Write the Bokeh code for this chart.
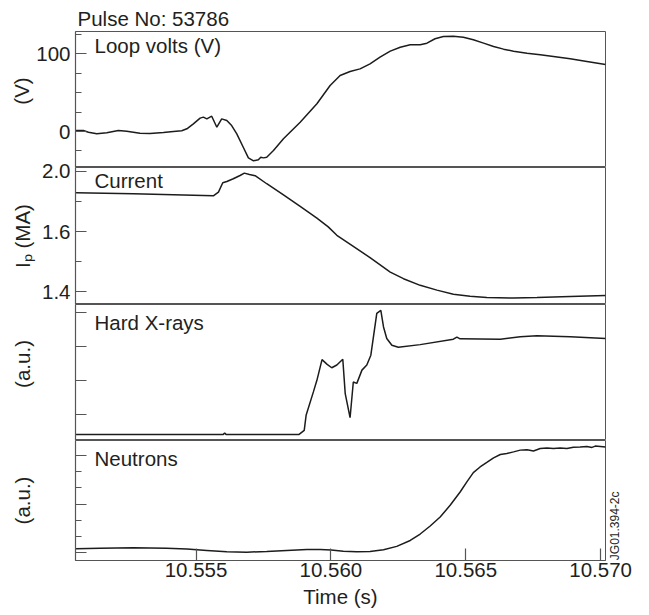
import math
from bokeh.plotting import figure
from bokeh.models import Range1d, FixedTicker, Label, NumeralTickFormatter, LinearAxis
from bokeh.layouts import column
from bokeh.embed import file_html
from bokeh.resources import INLINE

# ---------------- data ----------------
pulse_title = "Pulse No: 53786"

loop_t = [10.55055, 10.55082, 10.55101, 10.55132, 10.55169, 10.55212, 10.55243, 10.55292, 10.55329,
          10.55379, 10.55416, 10.55447, 10.55466, 10.55490, 10.55515, 10.55527, 10.55540, 10.55558,
          10.55577, 10.55595, 10.55614, 10.55632, 10.55651, 10.55675, 10.55694, 10.55713, 10.55731,
          10.55740, 10.55750, 10.55762, 10.55787, 10.55824, 10.55886, 10.55948, 10.55997, 10.56034,
          10.56071, 10.56108, 10.56145, 10.56182, 10.56220, 10.56257, 10.56294, 10.56331, 10.56356,
          10.56386, 10.56417, 10.56454, 10.56491, 10.56528, 10.56566, 10.56603, 10.56640, 10.56677,
          10.56727, 10.56776, 10.56825, 10.56887, 10.56949, 10.57018]
loop_v = [1.3, 1.3, -0.9, -3.0, -1.7, 1.3, 0.4, -2.2, -2.6,
          -1.3, 0.0, 0.9, 3.5, 9.9, 17.2, 18.5, 16.3, 19.7,
          5.5, 16.3, 14.2, 7.7, -3.0, -20.2, -33.9, -37.7, -36.4,
          -33.0, -33.9, -33.0, -24.5, -9.4, 12.0, 35.7, 59.2, 72.1,
          77.2, 80.6, 87.1, 95.6, 103.4, 108.5, 111.6, 111.6, 113.7,
          119.4, 122.3, 122.7, 121.4, 118.0, 113.7, 109.4, 106.0, 103.4,
          100.8, 98.8, 96.6, 93.5, 90.1, 86.2]

cur_t = [10.55055, 10.55267, 10.55416, 10.55564, 10.55583, 10.55599, 10.55614, 10.55638, 10.55663,
         10.55679, 10.55698, 10.55719, 10.55762, 10.55824, 10.55886, 10.55948, 10.55990, 10.56022,
         10.56083, 10.56145, 10.56220, 10.56269, 10.56331, 10.56393, 10.56454, 10.56516, 10.56578,
         10.56677, 10.56764, 10.56887, 10.57018]
cur_ip = [1.894, 1.889, 1.884, 1.879, 1.897, 1.944, 1.950, 1.964, 1.980,
          1.992, 1.985, 1.979, 1.939, 1.884, 1.826, 1.768, 1.724, 1.682,
          1.627, 1.571, 1.499, 1.466, 1.433, 1.409, 1.389, 1.379, 1.372,
          1.370, 1.372, 1.377, 1.382]

hxr_t = [10.55055, 10.55601, 10.55606, 10.55611, 10.55882, 10.55901, 10.55908, 10.55935, 10.55948,
         10.55967, 10.55986, 10.56003, 10.56022, 10.56044, 10.56053, 10.56071, 10.56083, 10.56096,
         10.56115, 10.56133, 10.56148, 10.56170, 10.56185, 10.56195, 10.56207, 10.56226, 10.56250,
         10.56331, 10.56454, 10.56467, 10.56479, 10.56628, 10.56702, 10.56764, 10.56887, 10.57018]
hxr_v = [0.18, 0.18, 0.22, 0.18, 0.18, 0.30, 0.74, 1.43, 1.77,
         2.38, 2.24, 2.14, 2.22, 2.39, 1.38, 0.67, 1.72, 1.68,
         2.07, 2.22, 2.51, 3.74, 3.83, 3.34, 3.00, 2.80, 2.74,
         2.82, 2.98, 3.04, 2.99, 2.98, 3.05, 3.08, 3.05, 3.00]

neu_t = [10.55055, 10.55144, 10.55267, 10.55391, 10.55466, 10.55540, 10.55614, 10.55688, 10.55762,
         10.55836, 10.55911, 10.55960, 10.56001, 10.56046, 10.56096, 10.56145, 10.56195, 10.56244,
         10.56294, 10.56331, 10.56368, 10.56405, 10.56442, 10.56479, 10.56504, 10.56528, 10.56553,
         10.56578, 10.56603, 10.56628, 10.56652, 10.56677, 10.56702, 10.56727, 10.56751, 10.56776,
         10.56801, 10.56825, 10.56850, 10.56875, 10.56899, 10.56924, 10.56949, 10.56968, 10.56980,
         10.57018]
neu_v = [0.21, 0.25, 0.28, 0.25, 0.19, 0.11, 0.03, 0.00, 0.04,
         0.11, 0.17, 0.17, 0.13, 0.06, 0.03, 0.04, 0.15, 0.36,
         0.73, 1.13, 1.63, 2.19, 2.92, 3.75, 4.38, 4.96, 5.31,
         5.59, 5.88, 6.09, 6.15, 6.25, 6.36, 6.38, 6.31, 6.46,
         6.50, 6.46, 6.50, 6.46, 6.54, 6.56, 6.59, 6.53, 6.61,
         6.56]

x_ticks = [10.555, 10.560, 10.565, 10.570]
panel_names = ["Loop volts (V)", "Current", "Hard X-rays", "Neutrons"]
NB = "\u00a0"
y_titles = [NB * 3 + "(V)", "I\u209a (MA)", NB * 3 + "(a.u.)", "(a.u.)"]
loop_ticks, loop_minor = [0, 100], [-25, 25, 50, 75, 125]
cur_ticks, cur_minor = [1.4, 1.7, 2.0], [1.55, 1.85]
cur_tick_labels = {1.4: "1.4", 1.7: "1.6", 2.0: "2.0"}
hxr_ticks = [0.76, 1.76, 2.76, 3.76]
neu_ticks, neu_minor = [0, 3, 6], [1, 2, 4, 5]
code_label = "JG01.394-2c"

# ---------------- style ----------------
FONT = "Liberation Sans"
FS = "20.5px"
TXT = "#231f20"
FRAME = "#555555"
LINE = "#1c1c1c"
X0, X1 = 10.55053, 10.57018
xr = Range1d(X0, X1)


def make_panel(yr, fh, top, bottom, ticks, minor, ytitle, title_standoff,
               overrides=None, show_x=False, margin=0):
    p = figure(frame_width=530, frame_height=fh, x_range=xr, y_range=Range1d(*yr),
               output_backend="svg", toolbar_location=None, tools="",
               x_axis_location="below" if show_x else None,
               min_border_left=75, min_border_right=44,
               min_border_top=top, min_border_bottom=bottom,
               margin=(margin, 0, 0, 0))
    p.grid.visible = False
    p.outline_line_color = FRAME
    p.outline_line_width = 1.0
    p.background_fill_color = "white"
    p.border_fill_color = None
    ax = p.yaxis[0]
    ax.ticker = FixedTicker(ticks=ticks, minor_ticks=minor)
    ax.major_tick_in = 11
    ax.major_tick_out = 0
    ax.minor_tick_in = 6
    ax.minor_tick_out = 0
    ax.major_label_standoff = 5
    ax.axis_line_color = FRAME
    ax.axis_line_width = 1.2
    ax.major_tick_line_color = FRAME
    ax.minor_tick_line_color = FRAME
    ax.major_tick_line_width = 1.2
    ax.minor_tick_line_width = 1.2
    ax.major_label_text_font = FONT
    ax.major_label_text_font_size = FS
    ax.major_label_text_color = TXT
    if overrides is not None:
        ax.major_label_overrides = overrides
    ax.axis_label = ytitle
    ax.axis_label_text_font = FONT
    ax.axis_label_text_font_size = FS
    ax.axis_label_text_font_style = "normal"
    ax.axis_label_text_color = TXT
    ax.axis_label_standoff = title_standoff
    return p


def add_name(p, yr, name, name_dy):
    p.add_layout(Label(x=X0, y=yr[1], x_offset=19, y_offset=-name_dy, text=name,
                       text_font=FONT, text_font_size=FS, text_color=TXT,
                       text_baseline="alphabetic", text_align="left"))


yr1 = (-46.3, 128.7)
yr2 = (1.3375, 2.0199)
yr3 = (0.0, 4.0)
yr4 = (-0.52, 6.96)

p1 = make_panel(yr1, 136, 31, 0, loop_ticks, loop_minor, y_titles[0], 0)
p1.line(loop_t, loop_v, line_color=LINE, line_width=1.5)
add_name(p1, yr1, panel_names[0], 14.3)
p1.title.text = pulse_title
p1.title.align = "left"
p1.title.offset = 2
p1.title.standoff = 3
p1.title.text_font = FONT
p1.title.text_font_size = FS
p1.title.text_font_style = "normal"
p1.title.text_color = TXT

p2 = make_panel(yr2, 137, 14, 0, cur_ticks, cur_minor, y_titles[1], 5,
                overrides=cur_tick_labels, margin=-14)
p2.line(cur_t, cur_ip, line_color=LINE, line_width=1.5)
add_name(p2, yr2, panel_names[1], 13.3)

p3 = make_panel(yr3, 136, 0, 0, hxr_ticks, [], y_titles[2], 42,
                overrides={t: "" for t in hxr_ticks})
p3.line(hxr_t, hxr_v, line_color=LINE, line_width=1.5)
add_name(p3, yr3, panel_names[2], 17.7)

p4 = make_panel(yr4, 120, 0, 0, neu_ticks, neu_minor, y_titles[3], 42,
                overrides={t: "" for t in neu_ticks}, show_x=True)
p4.line(neu_t, neu_v, line_color=LINE, line_width=1.5)
add_name(p4, yr4, panel_names[3], 17.7)
xa = p4.xaxis[0]
xa.ticker = FixedTicker(ticks=x_ticks, minor_ticks=[])
xa.formatter = NumeralTickFormatter(format="0.000")
xa.major_tick_in = 12
xa.major_tick_out = 0
xa.minor_tick_in = 0
xa.minor_tick_out = 0
xa.major_label_standoff = 2
xa.axis_line_color = FRAME
xa.axis_line_width = 1.2
xa.major_tick_line_color = FRAME
xa.major_tick_line_width = 1.2
xa.major_label_text_font = FONT
xa.major_label_text_font_size = FS
xa.major_label_text_color = TXT
xa.axis_label = "Time (s)"
xa.axis_label_text_font = FONT
xa.axis_label_text_font_size = FS
xa.axis_label_text_font_style = "normal"
xa.axis_label_text_color = TXT
xa.axis_label_standoff = 5

code_pos = -0.5
ra = LinearAxis(ticker=FixedTicker(ticks=[code_pos], minor_ticks=[]),
                major_label_overrides={code_pos: code_label},
                major_label_orientation=math.pi / 2,
                major_tick_in=0, major_tick_out=0, axis_line_color=None,
                major_label_standoff=10, major_label_text_font=FONT,
                major_label_text_font_size="12px", major_label_text_color=TXT)
p4.add_layout(ra, "right")

layout = column(p1, p2, p3, p4, spacing=0)
open("out.html", "w").write(file_html(layout, INLINE))
